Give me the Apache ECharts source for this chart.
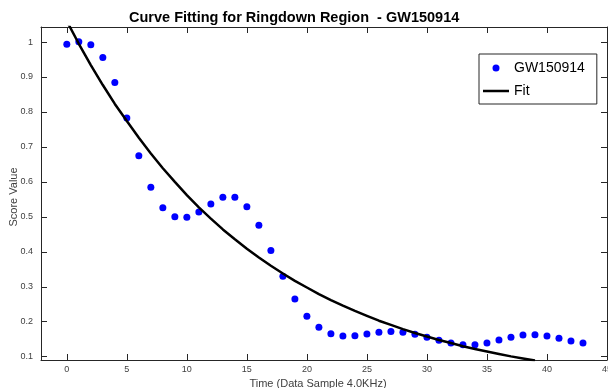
<!DOCTYPE html>
<html>
<head>
<meta charset="utf-8">
<title>Curve Fitting for Ringdown Region</title>
<script src="https://cdn.jsdelivr.net/npm/echarts@6/dist/echarts.min.js"></script>
<style>
  html, body { margin: 0; padding: 0; background: #fff; }
  #chart { width: 608px; height: 388px; }
</style>
</head>
<body>
<div id="chart"></div>
<script>
  // sample index (4.0 kHz)
  var samples = [0, 1, 2, 3, 4, 5, 6, 7, 8, 9, 10, 11, 12, 13, 14, 15, 16, 17, 18, 19, 20, 21,
    22, 23, 24, 25, 26, 27, 28, 29, 30, 31, 32, 33, 34, 35, 36, 37, 38, 39, 40, 41, 42, 43];
  // measured score values (GW150914)
  var scores = [0.994, 1.001, 0.992, 0.956, 0.884, 0.783, 0.675, 0.585, 0.526, 0.500, 0.499,
    0.514, 0.537, 0.556, 0.556, 0.529, 0.476, 0.404, 0.330, 0.265, 0.216, 0.184,
    0.166, 0.159, 0.160, 0.165, 0.170, 0.172, 0.170, 0.164, 0.156, 0.147, 0.139,
    0.134, 0.134, 0.139, 0.148, 0.156, 0.162, 0.163, 0.159, 0.153, 0.145, 0.139];
  var fitX = [0, 1, 2, 3, 4, 5, 6, 7, 8, 9, 10, 11, 12, 13, 14, 15, 16, 17, 18, 19,
    20, 21, 22, 23, 24, 25, 26, 27, 28, 29, 30, 31, 32, 33, 34, 35, 36, 37, 38, 39];
  var fitY = [1.060, 0.995, 0.934, 0.877, 0.823, 0.774, 0.726, 0.681, 0.639, 0.600, 0.562,
    0.527, 0.495, 0.464, 0.436, 0.409, 0.384, 0.360, 0.338, 0.317, 0.298, 0.279,
    0.262, 0.246, 0.231, 0.217, 0.203, 0.191, 0.179, 0.168, 0.158, 0.148, 0.139,
    0.130, 0.122, 0.115, 0.108, 0.101, 0.095, 0.089];
  var xTicks = [0, 5, 10, 15, 20, 25, 30, 35, 40, 45];
  var yTicks = [0.1, 0.2, 0.3, 0.4, 0.5, 0.6, 0.7, 0.8, 0.9, 1];

  var font = '"Liberation Sans", Arial, Helvetica, sans-serif';
  var axisColor = '#262626';
  var labelColor = '#404040';

  function pairs(xs, ys) {
    var out = [];
    for (var i = 0; i < xs.length; i++) out.push([xs[i], ys[i]]);
    return out;
  }

  function xAx(top) {
    return {
      type: 'value', min: -2.15, max: 45,
      position: top ? 'top' : 'bottom',
      name: top ? '' : 'Time (Data Sample 4.0KHz)',
      nameLocation: 'middle', nameGap: 18, nameMoveOverlap: false,
      nameTextStyle: { fontFamily: font, fontSize: 11, color: labelColor, padding: [0, 12, 0, 0] },
      axisLine: { show: true, onZero: false, lineStyle: { color: axisColor, width: 1 } },
      axisTick: { show: true, inside: true, length: 6, customValues: xTicks, lineStyle: { color: axisColor } },
      axisLabel: { show: !top, customValues: xTicks, margin: 5, fontFamily: font, fontSize: 9, color: labelColor },
      splitLine: { show: false }
    };
  }

  function yAx(right) {
    return {
      type: 'value', min: 0.0906, max: 1.043,
      position: right ? 'right' : 'left',
      name: right ? '' : 'Score Value',
      nameLocation: 'middle', nameGap: 22, nameMoveOverlap: false,
      nameTextStyle: { fontFamily: font, fontSize: 11, color: labelColor, padding: [0, 7, 0, 0] },
      axisLine: { show: true, onZero: false, lineStyle: { color: axisColor, width: 1 } },
      axisTick: { show: true, inside: true, length: 6, customValues: yTicks, lineStyle: { color: axisColor } },
      axisLabel: { show: !right, customValues: yTicks, margin: 8, fontFamily: font, fontSize: 9, color: labelColor },
      splitLine: { show: false }
    };
  }

  var chart = echarts.init(document.getElementById('chart'), null, { renderer: 'canvas' });
  chart.setOption({
    animation: false,
    backgroundColor: '#fff',
    title: {
      text: 'Curve Fitting for Ringdown Region  - GW150914',
      left: 124, top: 5,
      textStyle: { fontFamily: font, fontSize: 14.5, fontWeight: 'bold', color: '#000' }
    },
    grid: { left: 41, top: 27, width: 566, height: 333, containLabel: false, outerBoundsMode: 'none' },
    legend: {
      orient: 'vertical',
      left: 479, top: 54,
      padding: [7, 12, 6, 4],
      itemWidth: 26, itemHeight: 7, itemGap: 9,
      backgroundColor: '#fff',
      borderColor: axisColor, borderWidth: 1, borderRadius: 0,
      textStyle: { fontFamily: font, fontSize: 14, color: '#000' },
      data: [
        { name: 'GW150914' },
        { name: 'Fit', icon: 'path://M0 0H26V2.5H0Z', itemStyle: { color: '#000' } }
      ]
    },
    xAxis: [xAx(false), xAx(true)],
    yAxis: [yAx(false), yAx(true)],
    series: [
      {
        name: 'GW150914', type: 'scatter',
        symbol: 'circle', symbolSize: 7,
        itemStyle: { color: '#0000ff', opacity: 1 },
        data: pairs(samples, scores)
      },
      {
        name: 'Fit', type: 'line',
        showSymbol: false, symbol: 'none',
        lineStyle: { color: '#000', width: 2.5 },
        itemStyle: { color: '#000' },
        clip: true,
        data: pairs(fitX, fitY)
      }
    ]
  });
</script>
</body>
</html>
